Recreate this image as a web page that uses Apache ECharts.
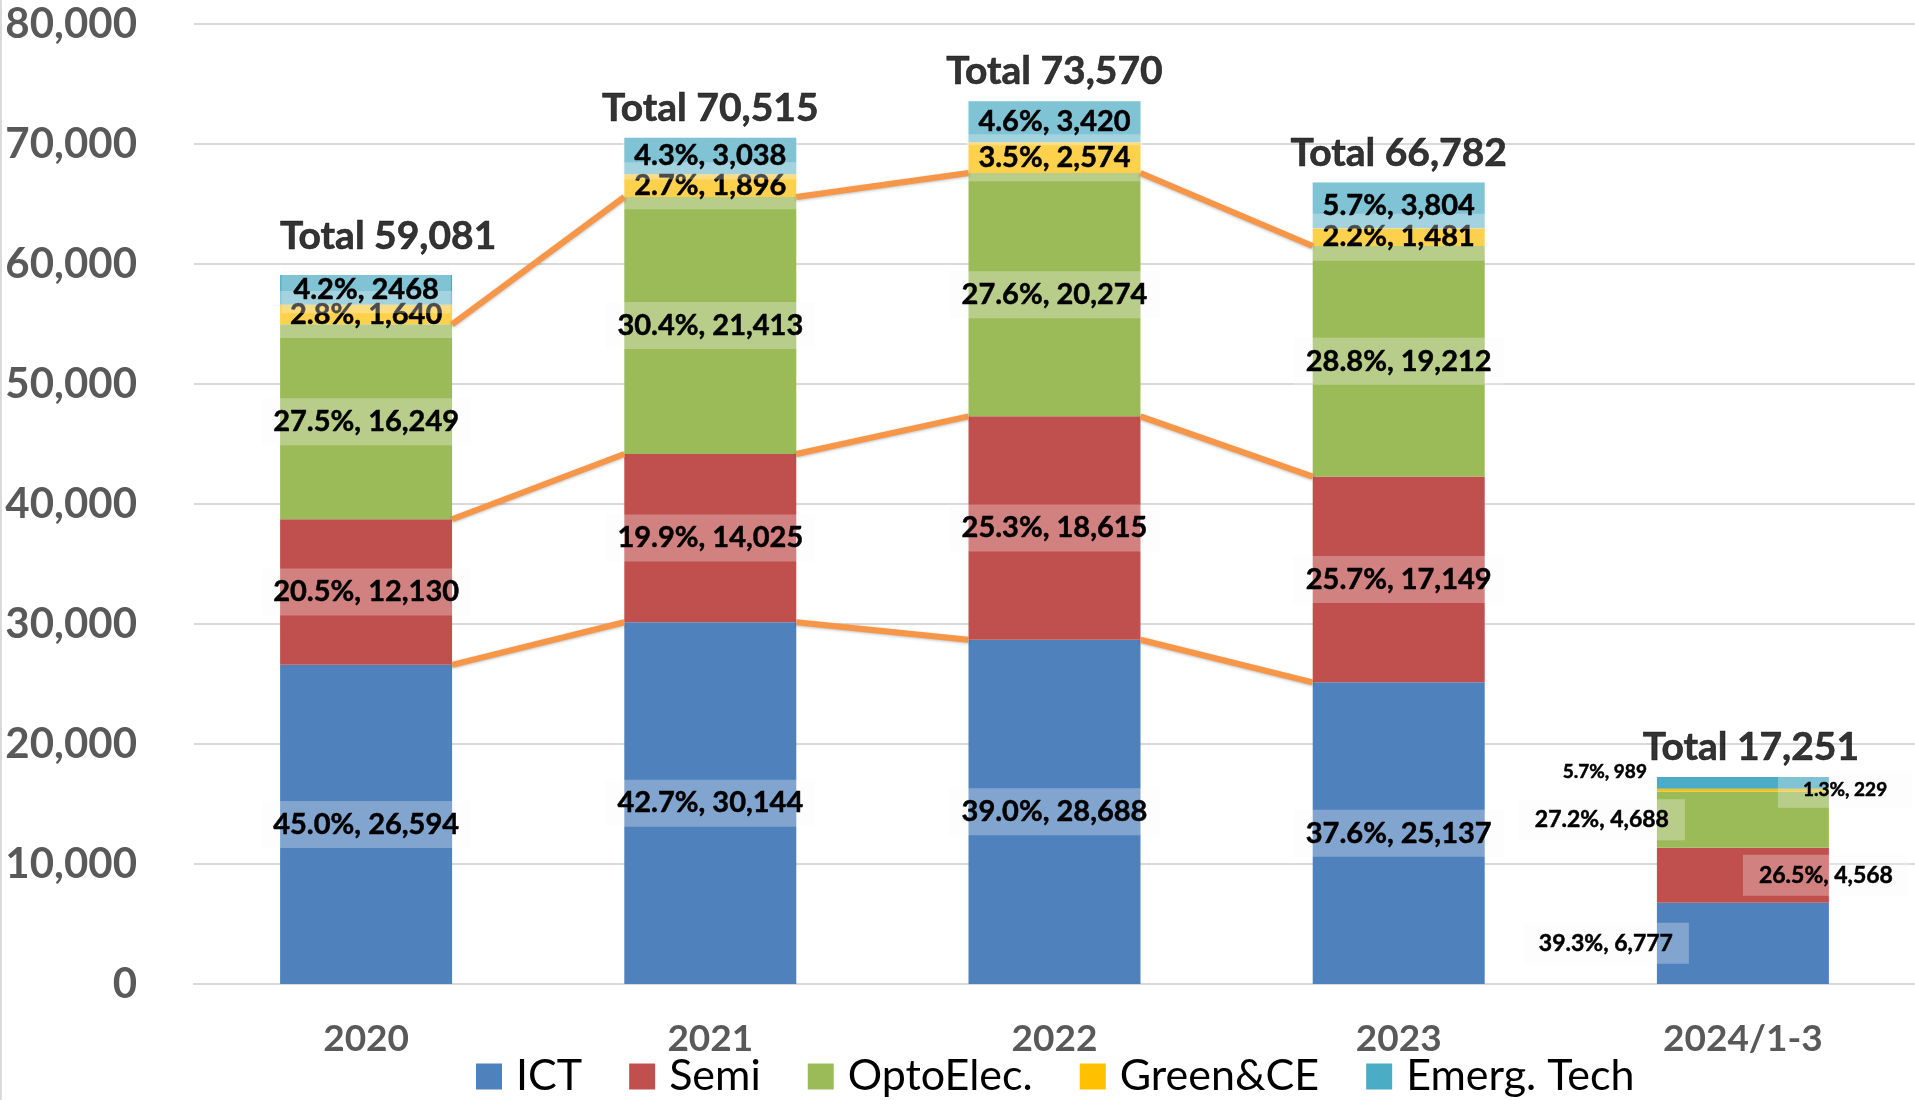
<!DOCTYPE html>
<html><head><meta charset="utf-8">
<script src="https://cdn.jsdelivr.net/npm/echarts@6/dist/echarts.min.js"></script>
<style>html,body{margin:0;padding:0;background:#fff}#c{width:1915px;height:1100px}</style>
</head><body><div id="c"></div>
<script>
const categories = ['2020', '2021', '2022', '2023', '2024/1-3'];
const seriesNames = ['ICT', 'Semi', 'OptoElec.', 'Green&CE', 'Emerg. Tech'];
const ict   = [26594, 30144, 28688, 25137, 6777];
const semi  = [12130, 14025, 18615, 17149, 4568];
const opto  = [16249, 21413, 20274, 19212, 4688];
const green = [1640, 1896, 2574, 1481, 229];
const emerg = [2468, 3038, 3420, 3804, 989];
const ictPct   = [45.0, 42.7, 39.0, 37.6, 39.3];
const semiPct  = [20.5, 19.9, 25.3, 25.7, 26.5];
const optoPct  = [27.5, 30.4, 27.6, 28.8, 27.2];
const greenPct = [2.8, 2.7, 3.5, 2.2, 1.3];
const emergPct = [4.2, 4.3, 4.6, 5.7, 5.7];
const totals = [59081, 70515, 73570, 66782, 17251];
const yMax = 80000, yStep = 10000;
const linkedYears = 4; // series lines drawn between the first four years

const colors = ['#4f81bd', '#c0504d', '#9bbb59', '#ffc000', '#4bacc6'];
const fmt = v => v.toLocaleString('en-US');
const FONT = 'Lato';
const BAR_W = 172;

const baseLabel = {
  show: true, position: 'inside', fontFamily: FONT, fontWeight: 'bold', fontSize: 29,
  color: '#000', textBorderColor: '#000', textBorderWidth: 0.5,
  backgroundColor: 'rgba(250,250,250,0.3)', padding: [9, 12]
};

// per-point label placements for the small last bar
const lastOverrides = [
  { position: 'left', distance: -32, fontSize: 23, padding: [9, 16] },
  { position: 'right', distance: -86, fontSize: 23, padding: [9, 16] },
  { position: 'left', distance: -28, fontSize: 23, padding: [9, 16] },
  { position: 'right', distance: -51, fontSize: 19, padding: [8, 25] },
  { position: 'left', distance: 8, fontSize: 19, backgroundColor: 'transparent', offset: [0, -11], padding: [2, 2] }
];

function segment(idx, vals, pcts, noCommaIdx) {
  return {
    name: seriesNames[idx], type: 'bar', stack: 'total', barWidth: BAR_W,
    itemStyle: { color: colors[idx] },
    label: Object.assign({}, baseLabel, {
      formatter: p => pcts[p.dataIndex].toFixed(1) + '%, ' + (noCommaIdx.includes(p.dataIndex) ? String(p.value) : fmt(p.value))
    }),
    data: vals.map((v, i) => i === vals.length - 1 ? { value: v, label: lastOverrides[idx] } : { value: v })
  };
}

// cumulative tops for series lines
const cum1 = ict.slice();
const cum2 = ict.map((v, i) => v + semi[i]);
const cum3 = ict.map((v, i) => v + semi[i] + opto[i]);
const lineData = [];
[cum1, cum2, cum3].forEach(c => {
  for (let i = 0; i < linkedYears - 1; i++) lineData.push([i, c[i], c[i + 1]]);
});

const chart = echarts.init(document.getElementById('c'));
chart.setOption({
  animation: false,
  backgroundColor: '#fff',
  grid: { left: 194, top: 24, bottom: 116, width: 1731, containLabel: false },
  xAxis: {
    type: 'category', data: categories,
    axisLine: { show: true, lineStyle: { color: '#d9d9d9', width: 2 } },
    axisTick: { show: false },
    axisLabel: { fontFamily: FONT, fontWeight: 'bold', fontSize: 37, color: '#595959', margin: 37 }
  },
  yAxis: {
    type: 'value', min: 0, max: yMax, interval: yStep,
    axisLine: { show: false }, axisTick: { show: false },
    splitLine: { lineStyle: { color: '#d9d9d9', width: 2 } },
    axisLabel: { fontFamily: FONT, fontWeight: 'bold', fontSize: 42, color: '#595959', margin: 57, formatter: v => fmt(v) }
  },
  legend: {
    data: seriesNames, left: 471, top: 1050, icon: 'rect', itemWidth: 26, itemHeight: 26, itemGap: 47,
    textStyle: { fontFamily: FONT, fontSize: 43, color: '#000', padding: [0, 0, 0, 9] }
  },
  graphic: [{ type: 'line', shape: { x1: 1, y1: 0, x2: 1, y2: 1100 }, style: { stroke: '#d9d9d9', lineWidth: 2 } }],
  series: [
    segment(0, ict, ictPct, []),
    segment(1, semi, semiPct, []),
    segment(2, opto, optoPct, []),
    segment(3, green, greenPct, []),
    segment(4, emerg, emergPct, [0]),
    {
      type: 'custom', name: 'links', z: 5, silent: true,
      encode: { x: 0, y: [1, 2] },
      data: lineData,
      renderItem: (params, api) => {
        const i = api.value(0);
        const p1 = api.coord([i, api.value(1)]);
        const p2 = api.coord([i + 1, api.value(2)]);
        return {
          type: 'line',
          shape: { x1: p1[0] + BAR_W / 2, y1: p1[1], x2: p2[0] - BAR_W / 2, y2: p2[1] },
          style: { stroke: '#f79646', lineWidth: 6, shadowBlur: 3, shadowColor: 'rgba(0,0,0,0.25)', shadowOffsetY: 1 }
        };
      }
    },
    {
      type: 'scatter', name: 'Total', symbolSize: 0, silent: true, z: 6,
      data: totals.map((v, i) => i === 0 ? { value: v, label: { offset: [22, -9] } }
        : (i === totals.length - 1 ? { value: v, label: { offset: [8, 0] } } : { value: v })),
      label: {
        show: true, position: 'top', distance: 10, fontFamily: FONT, fontWeight: 'bold', fontSize: 39, color: '#000',
        textBorderColor: '#000', textBorderWidth: 0.6,
        formatter: p => 'Total ' + fmt(p.value)
      }
    }
  ]
});
</script>
</body></html>
